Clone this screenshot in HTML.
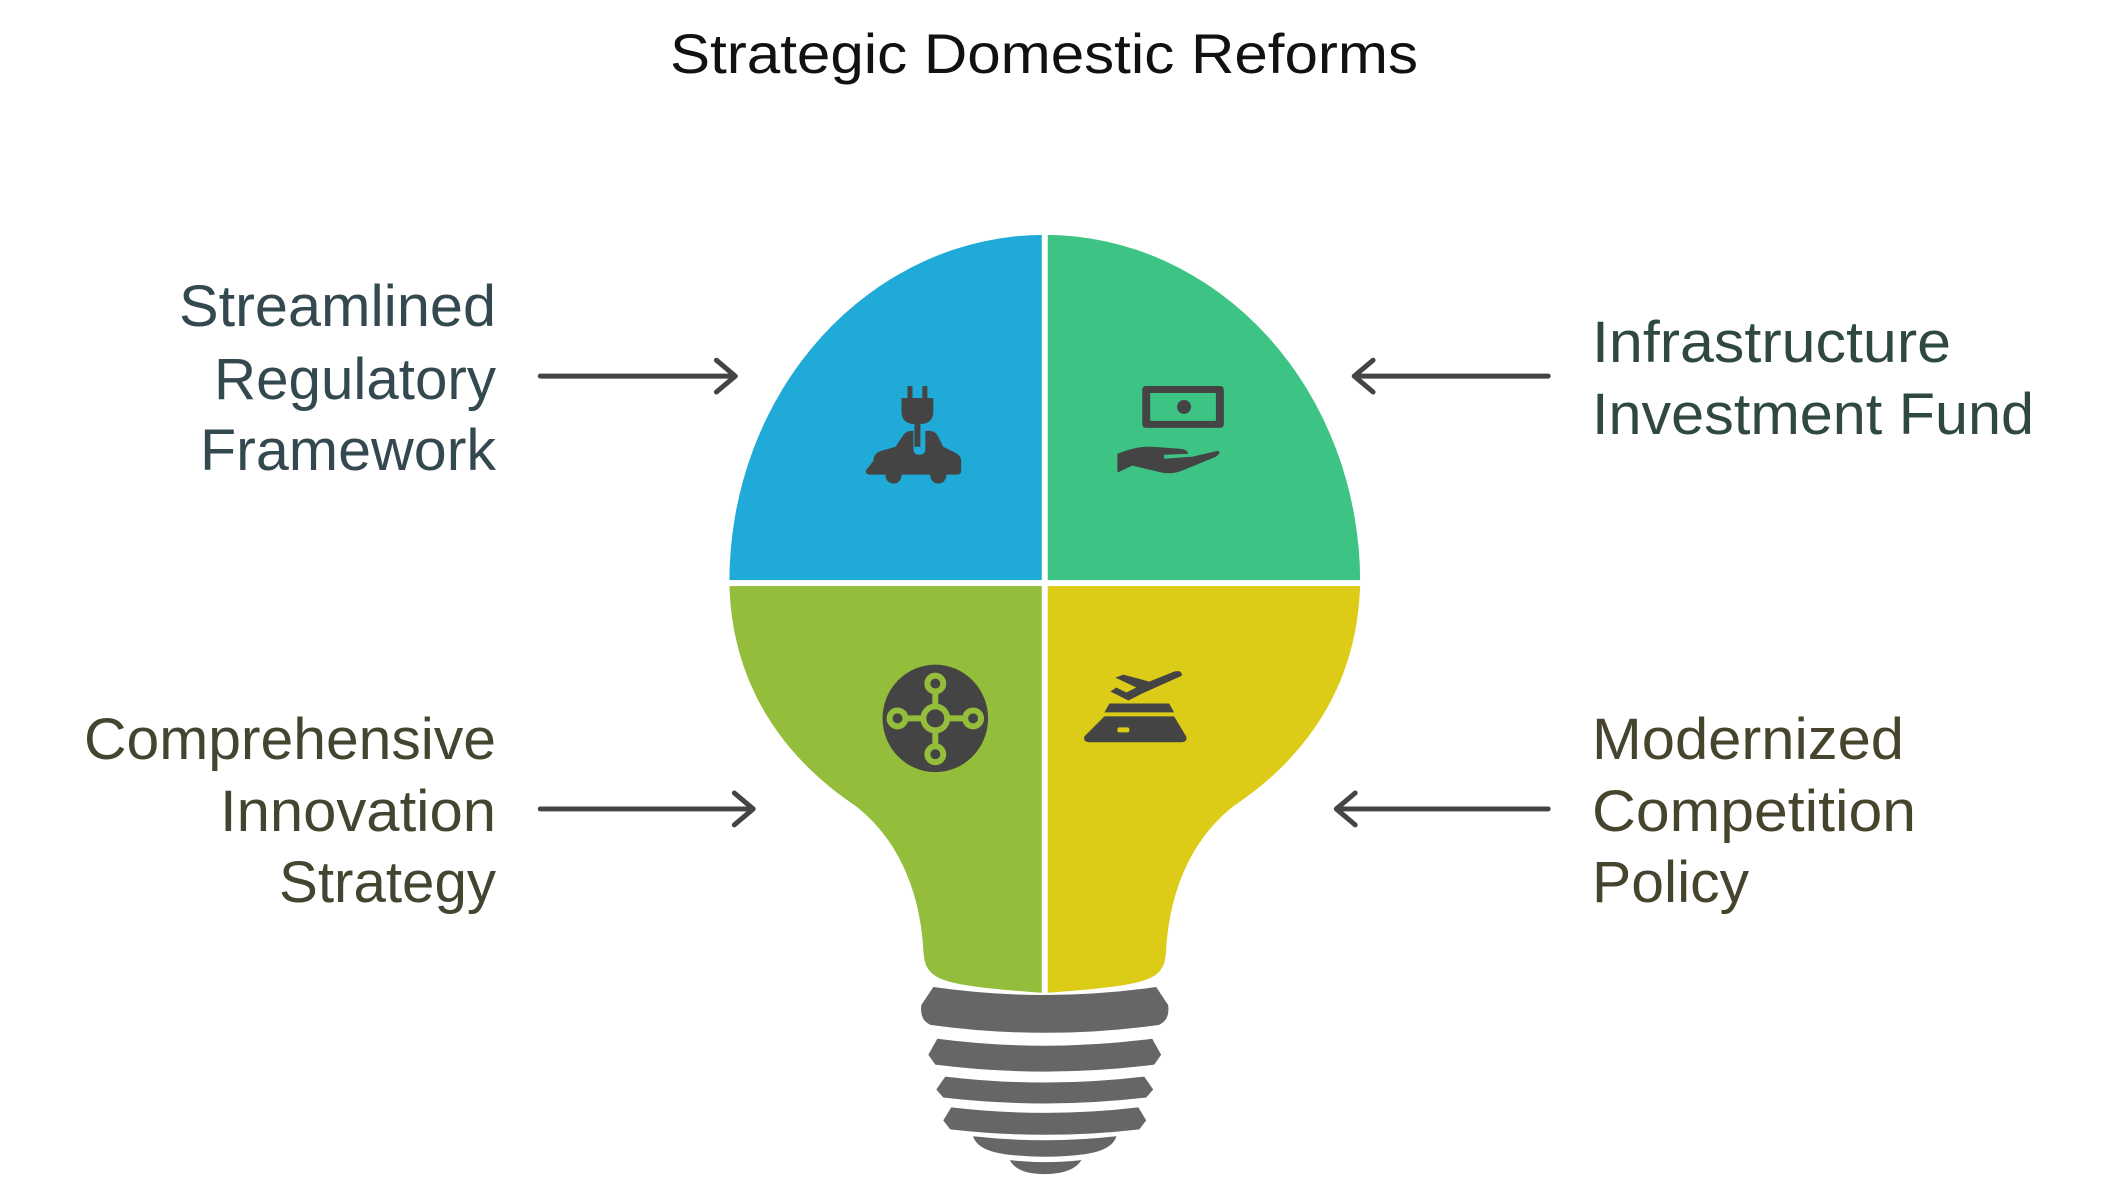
<!DOCTYPE html>
<html><head><meta charset="utf-8"><style>
html,body{margin:0;padding:0;background:#fff;}
svg{display:block;}
text{font-family:"Liberation Sans",sans-serif;}
</style></head><body>
<svg width="2124" height="1195" viewBox="0 0 2124 1195" xmlns="http://www.w3.org/2000/svg">
<defs>
<clipPath id="bulb"><path d="M1050,236 A317,349 0 0 0 733,585 C735,700 800,770 860,810 C905,845 925,900 928,955 C930,985 940,990 1050,998 C1160,990 1170,985 1172,955 C1175,900 1195,845 1240,810 C1300,770 1365,700 1367,585 A317,349 0 0 0 1050,236 Z"/></clipPath>
</defs>
<text x="1044" y="73" font-size="56" fill="#111" text-anchor="middle" textLength="748" lengthAdjust="spacingAndGlyphs">Strategic Domestic Reforms</text>

<g transform="scale(0.995)">
<g clip-path="url(#bulb)">
<rect x="700" y="200" width="350" height="385" fill="#1FAAD8"/>
<rect x="1050" y="200" width="350" height="385" fill="#3DC484"/>
<rect x="700" y="585" width="350" height="450" fill="#93BD3A"/>
<rect x="1050" y="585" width="350" height="450" fill="#DDCC17"/>
</g>
<rect x="1047" y="230" width="6" height="775" fill="#fff"/>
<rect x="700" y="583" width="700" height="6" fill="#fff"/>

<g fill="#666">
<path d="M938,992 Q1050,1008 1162,992 L1174,1010 Q1176,1025 1165,1030 Q1050,1046 935,1030 Q924,1025 926,1010 Z"/>
<path d="M942,1044 Q1050,1058 1158,1044 L1167,1060 L1160,1070 Q1050,1084 940,1070 L933,1060 Z"/>
<path d="M950,1082 Q1050,1094 1150,1082 L1159,1095 L1152,1103 Q1050,1115 948,1103 L941,1095 Z"/>
<path d="M956,1113 Q1050,1124 1144,1113 L1152,1126 L1145,1135 Q1050,1146 955,1135 L948,1126 Z"/>
<path d="M978,1142 Q1050,1150 1122,1142 Q1118,1156 1090,1160 Q1050,1165 1010,1160 Q982,1156 978,1142 Z"/>
<path d="M1015,1166 Q1050,1170 1087,1166 Q1078,1180 1050,1180 Q1022,1180 1015,1166 Z"/>
</g>

<g fill="#444">
<rect x="912" y="388" width="5" height="14"/><rect x="927" y="388" width="5" height="14"/>
<path d="M906,400 h32 v14 q0,10 -10,12 h-12 q-10,-2 -10,-12 Z"/>
<rect x="919" y="424" width="6" height="25"/>
<path d="M878,463 q0,-8 8,-10 l14,-4 l8,-12 q3,-4 8,-4 h2 v18 q0,6 6,6 q6,0 6,-6 v-18 h4 q5,0 8,4 l6,12 l12,6 q6,3 6,8 v10 q0,4 -4,4 h-88 q-4,0 -4,-4 Z"/>
<circle cx="898" cy="478" r="8"/><circle cx="943" cy="478" r="8"/>
<path d="M1152,388 h74 q4,0 4,4 v34 q0,4 -4,4 h-74 q-4,0 -4,-4 v-34 q0,-4 4,-4 Z M1156,395 v28 h66 v-28 Z" fill-rule="evenodd"/>
<circle cx="1190" cy="409" r="7"/>
<path d="M1123,456 q20,-8 35,-7 l28,2 q8,1 8,5 l-24,1 v4 l28,-2 l26,-6 q4,2 -2,6 l-34,14 q-10,4 -20,2 l-30,-7 l-15,7 Z"/>
<ellipse cx="940" cy="722" rx="53" ry="54"/>
<g fill="none" stroke="#93BD3A" stroke-width="6">
<circle cx="940" cy="722" r="12"/>
<circle cx="940" cy="687" r="8"/><circle cx="940" cy="758" r="8"/>
<circle cx="902" cy="722" r="8"/><circle cx="978" cy="722" r="8"/>
<line x1="940" y1="695" x2="940" y2="710"/><line x1="940" y1="734" x2="940" y2="750"/>
<line x1="910" y1="722" x2="928" y2="722"/><line x1="952" y1="722" x2="970" y2="722"/>
</g>
<path d="M1121,681 l8,-3 l26,7 l25,-10 q8,-2 8,4 l-40,18 l-14,7 l-18,-9 l6,-4 l10,5 l10,-5 Z"/>
<path d="M1110,716 l5,-9 h60 l5,9 Z"/>
<path d="M1110,720 h70 l12,20 q2,5 -4,6 h-94 q-6,-1 -4,-6 Z"/>
<rect x="1123" y="731" width="12" height="5" rx="2" fill="#DDCC17"/>
</g>

<g stroke="#444" stroke-width="5" fill="none" stroke-linecap="round" stroke-linejoin="round">
<path d="M543,378 H738 M720,362 L739,378 L720,394"/>
<path d="M1556,378 H1362 M1380,362 L1361,378 L1380,394"/>
<path d="M543,813 H756 M738,797 L757,813 L738,829"/>
<path d="M1556,813 H1344 M1362,797 L1343,813 L1362,829"/>
</g>
</g>

<g font-size="58" fill="#344850">
<text x="179" y="326" textLength="317" lengthAdjust="spacingAndGlyphs">Streamlined</text>
<text x="214" y="399" textLength="282" lengthAdjust="spacingAndGlyphs">Regulatory</text>
<text x="200" y="470" textLength="296" lengthAdjust="spacingAndGlyphs">Framework</text>
</g>
<g font-size="58" fill="#2f4840">
<text x="1592" y="362" textLength="359" lengthAdjust="spacingAndGlyphs">Infrastructure</text>
<text x="1592" y="434" textLength="442" lengthAdjust="spacingAndGlyphs">Investment Fund</text>
</g>
<g font-size="58" fill="#42452f">
<text x="84" y="759" textLength="412" lengthAdjust="spacingAndGlyphs">Comprehensive</text>
<text x="220" y="831" textLength="276" lengthAdjust="spacingAndGlyphs">Innovation</text>
<text x="279" y="902" textLength="217" lengthAdjust="spacingAndGlyphs">Strategy</text>
</g>
<g font-size="58" fill="#46442c">
<text x="1592" y="759" textLength="312" lengthAdjust="spacingAndGlyphs">Modernized</text>
<text x="1592" y="831" textLength="324" lengthAdjust="spacingAndGlyphs">Competition</text>
<text x="1592" y="902" textLength="157" lengthAdjust="spacingAndGlyphs">Policy</text>
</g>
</svg>
</body></html>
